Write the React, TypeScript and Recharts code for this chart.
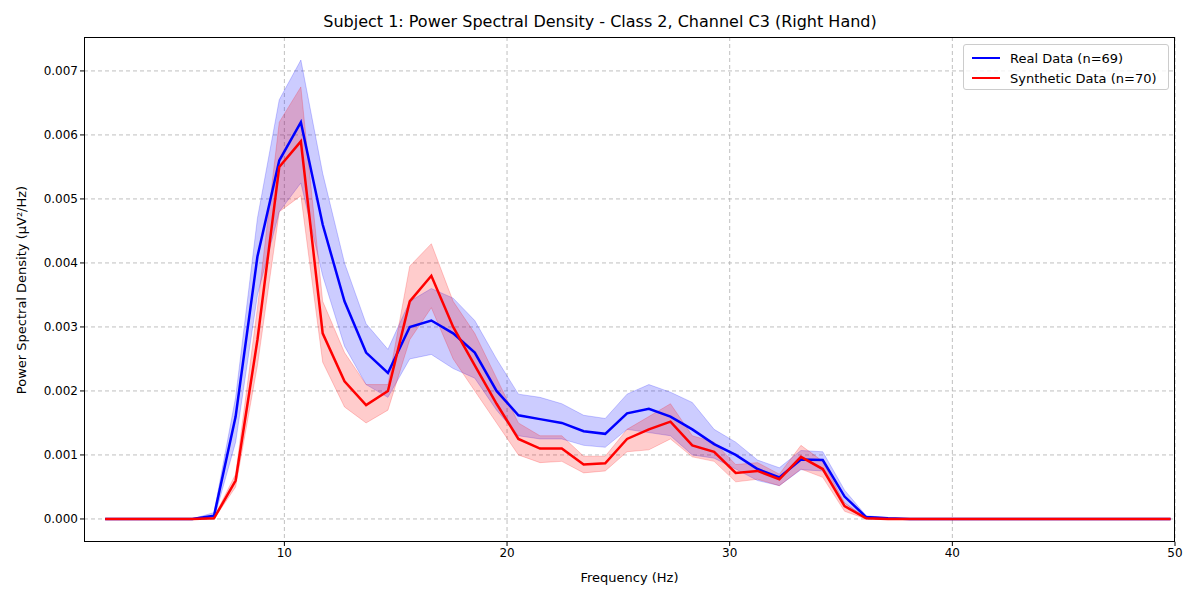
import React from 'react';
import { ComposedChart, Line, Area, XAxis, YAxis, CartesianGrid } from 'recharts';

const freqs = [1.95, 2.93, 3.91, 4.88, 5.86, 6.84, 7.81, 8.79, 9.77, 10.74, 11.72, 12.7, 13.67, 14.65, 15.63, 16.6, 17.58, 18.55, 19.53, 20.51, 21.48, 22.46, 23.44, 24.41, 25.39, 26.37, 27.34, 28.32, 29.3, 30.27, 31.25, 32.23, 33.2, 34.18, 35.16, 36.13, 37.11, 38.09, 39.06, 40.04, 41.02, 41.99, 42.97, 43.95, 44.92, 45.9, 46.88, 47.85, 48.83, 49.8];

const realMean = [0, 0, 0, 0, 0, 0.00005, 0.0016, 0.0041, 0.0056, 0.0062, 0.0046, 0.0034, 0.0026, 0.00228, 0.003, 0.0031, 0.0029, 0.0026, 0.002, 0.00162, 0.00156, 0.0015, 0.00137, 0.00133, 0.00165, 0.00172, 0.0016, 0.0014, 0.00117, 0.001, 0.00078, 0.00065, 0.00093, 0.00092, 0.00035, 0.00003, 0.00001, 0, 0, 0, 0, 0, 0, 0, 0, 0, 0, 0, 0, 0];
const realLo = [0, 0, 0, 0, 0, 0, 0.0012, 0.0035, 0.0048, 0.00525, 0.0038, 0.0027, 0.0021, 0.0019, 0.0025, 0.00257, 0.00235, 0.0022, 0.0017, 0.0013, 0.00125, 0.00125, 0.00115, 0.00112, 0.0014, 0.00135, 0.0013, 0.001, 0.00095, 0.00078, 0.0006, 0.00052, 0.00077, 0.00075, 0.00025, 0, 0, 0, 0, 0, 0, 0, 0, 0, 0, 0, 0, 0, 0, 0];
const realHi = [0, 0, 0, 0, 0, 0.0001, 0.0019, 0.0047, 0.00655, 0.00717, 0.0054, 0.004, 0.00305, 0.00265, 0.0034, 0.0036, 0.00345, 0.0031, 0.0025, 0.00195, 0.0019, 0.0018, 0.00162, 0.00157, 0.00195, 0.0021, 0.00198, 0.00182, 0.0014, 0.0012, 0.00092, 0.0008, 0.00107, 0.00105, 0.00045, 0.00005, 0.00002, 0, 0, 0, 0, 0, 0, 0, 0, 0, 0, 0, 0, 0];

const synMean = [0, 0, 0, 0, 0, 0.00001, 0.0006, 0.0028, 0.0055, 0.0059, 0.0029, 0.00215, 0.00178, 0.002, 0.0034, 0.0038, 0.003, 0.0024, 0.0018, 0.00125, 0.0011, 0.0011, 0.00085, 0.00087, 0.00125, 0.0014, 0.00152, 0.00115, 0.00105, 0.00072, 0.00075, 0.00062, 0.00097, 0.00078, 0.0002, 0.00001, 0, 0, 0, 0, 0, 0, 0, 0, 0, 0, 0, 0, 0, 0];
const synLo = [0, 0, 0, 0, 0, 0, 0.0005, 0.0024, 0.0048, 0.00505, 0.00245, 0.00175, 0.0015, 0.0017, 0.0028, 0.0033, 0.0025, 0.002, 0.0015, 0.001, 0.00088, 0.0009, 0.00072, 0.00075, 0.00105, 0.00108, 0.00125, 0.00097, 0.0009, 0.00058, 0.00062, 0.00052, 0.00078, 0.00065, 0.00012, 0, 0, 0, 0, 0, 0, 0, 0, 0, 0, 0, 0, 0, 0, 0];
const synHi = [0, 0, 0, 0, 0, 0.00003, 0.0007, 0.0033, 0.0062, 0.00675, 0.0034, 0.0026, 0.0021, 0.0021, 0.00395, 0.0043, 0.0034, 0.0029, 0.0022, 0.0015, 0.0013, 0.0013, 0.00098, 0.00098, 0.0014, 0.0016, 0.0018, 0.0013, 0.0012, 0.00085, 0.00088, 0.0007, 0.00115, 0.0009, 0.00025, 0.00002, 0, 0, 0, 0, 0, 0, 0, 0, 0, 0, 0, 0, 0, 0];

const xTicks = [10, 20, 30, 40, 50];
const yTicks = [0, 0.001, 0.002, 0.003, 0.004, 0.005, 0.006, 0.007];

const data = freqs.map((f, i) => ({
  f,
  real: realMean[i],
  realBand: [realLo[i], realHi[i]],
  syn: synMean[i],
  synBand: [synLo[i], synHi[i]],
}));

const font = 'DejaVu Sans, sans-serif';

export default function App() {
  return (
    <div style={{ position: 'absolute', left: 0, top: 0, width: 1200, height: 600, background: '#fff', fontFamily: font }}>
      <ComposedChart width={1200} height={600} data={data} margin={{ top: 37, right: 25, bottom: 0, left: 0 }}>
        <CartesianGrid stroke="#b0b0b0" strokeDasharray="4 3" strokeWidth={0.8} horizontalValues={yTicks} verticalValues={xTicks} />
        <XAxis dataKey="f" type="number" domain={[1, 50]} ticks={xTicks} allowDataOverflow height={58}
          axisLine={false} tickSize={4} tick={{ fill: '#000', fontSize: 12, fontFamily: font }} tickLine={{ stroke: '#000' }} />
        <YAxis type="number" domain={[-0.00036, 0.00753]} ticks={yTicks} allowDataOverflow width={84}
          axisLine={false} tickSize={4} tickFormatter={(v: number) => v.toFixed(3)}
          tick={{ fill: '#000', fontSize: 12, fontFamily: font }} tickLine={{ stroke: '#000' }} />
        <Area dataKey="realBand" type="linear" fill="blue" fillOpacity={0.2} stroke="blue" strokeOpacity={0.2} isAnimationActive={false} />
        <Area dataKey="synBand" type="linear" fill="red" fillOpacity={0.2} stroke="red" strokeOpacity={0.2} isAnimationActive={false} />
        <Line dataKey="real" type="linear" stroke="blue" strokeWidth={2.5} dot={false} isAnimationActive={false} />
        <Line dataKey="syn" type="linear" stroke="red" strokeWidth={2.5} dot={false} isAnimationActive={false} />
      </ComposedChart>
      <div style={{ position: 'absolute', left: 84, top: 37, width: 1091, height: 505, border: '1px solid #000', boxSizing: 'border-box', pointerEvents: 'none' }} />
      <div style={{ position: 'absolute', left: 0, width: 1200, top: 12, textAlign: 'center', fontSize: 16 }}>
        Subject 1: Power Spectral Density - Class 2, Channel C3 (Right Hand)
      </div>
      <div style={{ position: 'absolute', left: 84, width: 1091, top: 570, textAlign: 'center', fontSize: 13 }}>Frequency (Hz)</div>
      <div style={{ position: 'absolute', left: 21, top: 290, transform: 'translate(-50%, -50%) rotate(-90deg)', whiteSpace: 'nowrap', fontSize: 13 }}>
        Power Spectral Density (μV²/Hz)
      </div>
      <div style={{ position: 'absolute', left: 963, top: 44, width: 206, height: 46, border: '1px solid #ccc', borderRadius: 3, background: 'rgba(255,255,255,0.8)', boxSizing: 'border-box', fontSize: 13 }}>
        {[['blue', 'Real Data (n=69)'], ['red', 'Synthetic Data (n=70)']].map(([c, t], i) => (
          <div key={t} style={{ position: 'absolute', left: 8, top: 4 + i * 20, display: 'flex', alignItems: 'center', height: 18 }}>
            <span style={{ display: 'inline-block', width: 28, height: 2.5, background: c, marginRight: 10 }} />
            <span>{t}</span>
          </div>
        ))}
      </div>
    </div>
  );
}
